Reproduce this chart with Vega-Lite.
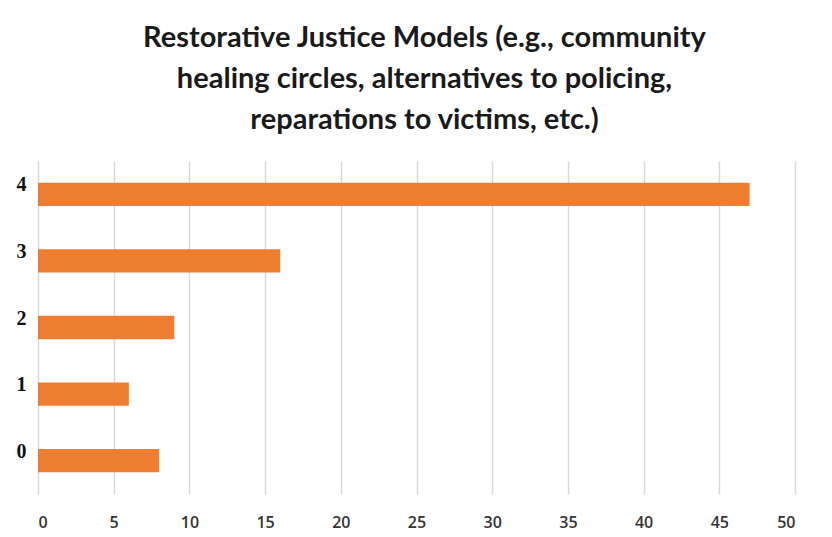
{
  "$schema": "https://vega.github.io/schema/vega-lite/v6.json",
  "autosize": {"type": "none"},
  "width": 757,
  "height": 333,
  "padding": {"left": 38, "top": 161, "right": 37, "bottom": 43},
  "background": "white",
  "title": {
    "text": ["Restorative Justice Models (e.g., community", "healing circles, alternatives to policing,", "reparations to victims, etc.)"],
    "font": "Lato",
    "fontSize": 29,
    "fontWeight": "bold",
    "color": "#1a1a1a",
    "anchor": "middle",
    "lineHeight": 41,
    "offset": 26,
    "dx": 8
  },
  "data": {
    "values": [
      {"rating": "4", "count": 47},
      {"rating": "3", "count": 16},
      {"rating": "2", "count": 9},
      {"rating": "1", "count": 6},
      {"rating": "0", "count": 8}
    ]
  },
  "mark": {"type": "bar", "color": "#ED7D31"},
  "encoding": {
    "y": {
      "field": "rating",
      "type": "ordinal",
      "sort": "descending",
      "scale": {"paddingInner": 0.65, "paddingOuter": 0.325},
      "axis": {
        "title": null,
        "domain": false,
        "ticks": false,
        "tickSize": 0,
        "grid": false,
        "labelAlign": "left",
        "labelPadding": 22,
        "labelOffset": -9,
        "labelFont": "Liberation Serif",
        "labelFontWeight": "bold",
        "labelFontSize": 20,
        "labelColor": "#111111"
      }
    },
    "x": {
      "field": "count",
      "type": "quantitative",
      "scale": {"domain": [0, 50], "nice": false},
      "axis": {
        "title": null,
        "values": [0, 5, 10, 15, 20, 25, 30, 35, 40, 45, 50],
        "domain": false,
        "ticks": false,
        "tickSize": 0,
        "grid": true,
        "gridColor": "#d9d9d9",
        "gridWidth": 1.5,
        "labelPadding": 20,
        "labelFont": "Open Sans",
        "labelFontSize": 16,
        "labelFontWeight": 600,
        "labelColor": "#333333"
      }
    }
  },
  "config": {"view": {"stroke": null}}
}
